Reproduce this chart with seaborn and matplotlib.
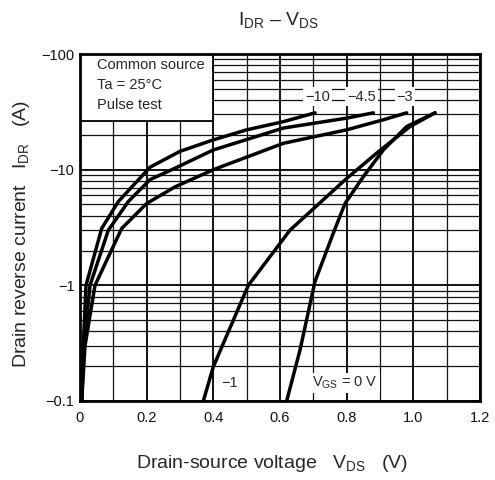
import numpy as np
import pandas as pd
import matplotlib
matplotlib.use("Agg")
import matplotlib.pyplot as plt
import seaborn as sns
from matplotlib.ticker import FixedLocator, NullFormatter, LogLocator
from matplotlib.patches import Rectangle

# Reverse drain current curves I_DR(V_DS) for several gate-source voltages
vgs_levels = [-10, -4.5, -3, -1, 0]

vds_m10 = [0.005, 0.010, 0.018, 0.065, 0.115, 0.21, 0.30, 0.40, 0.50, 0.61, 0.705]
idr_m10 = [-0.1, -0.3, -1.0, -3.1, -5.3, -10.5, -14.4, -18.1, -22.1, -26.0, -31.0]

vds_m45 = [0.005, 0.012, 0.030, 0.085, 0.145, 0.21, 0.285, 0.40, 0.61, 0.80, 0.88]
idr_m45 = [-0.1, -0.3, -1.0, -3.0, -5.3, -8.2, -10.3, -14.8, -22.9, -27.9, -31.0]

vds_m3 = [0.005, 0.015, 0.045, 0.125, 0.20, 0.285, 0.40, 0.61, 0.80, 0.91, 0.98]
idr_m3 = [-0.1, -0.3, -1.0, -3.1, -5.1, -7.1, -10.0, -16.9, -22.1, -27.0, -31.0]

vds_m1 = [0.37, 0.40, 0.46, 0.505, 0.63, 0.80, 0.89, 0.99, 1.065]
idr_m1 = [-0.1, -0.198, -0.5, -1.0, -3.0, -8.4, -13.9, -23.6, -31.0]

vds_0 = [0.62, 0.66, 0.705, 0.76, 0.795, 0.85, 0.91, 0.98, 1.065]
idr_0 = [-0.1, -0.276, -1.08, -2.83, -5.1, -8.7, -14.8, -23.6, -31.0]

x_ticks = [0, 0.2, 0.4, 0.6, 0.8, 1.0, 1.2]
x_tick_labels = ["0", "0.2", "0.4", "0.6", "0.8", "1.0", "1.2"]
y_ticks = [-0.1, -1, -10, -100]
y_tick_labels = ["\u22120.1", "\u22121", "\u221210", "\u2212100"]

info_lines = ["Common source", "Ta = 25\u00b0C", "Pulse test"]

series = {
    -10: (vds_m10, idr_m10),
    -4.5: (vds_m45, idr_m45),
    -3: (vds_m3, idr_m3),
    -1: (vds_m1, idr_m1),
    0: (vds_0, idr_0),
}
frames = []
for vgs in vgs_levels:
    vds, idr = series[vgs]
    frames.append(pd.DataFrame({"VDS": vds, "IDR": idr, "VGS": str(vgs)}))
df = pd.concat(frames, ignore_index=True)
df["IDR_mag"] = -df["IDR"]

sns.set_style("white")
plt.rcParams["font.family"] = ["Liberation Sans", "DejaVu Sans"]
plt.rcParams["mathtext.fontset"] = "custom"
plt.rcParams["mathtext.rm"] = "Liberation Sans"
plt.rcParams["mathtext.it"] = "Liberation Sans"
plt.rcParams["mathtext.default"] = "rm"

fig = plt.figure(figsize=(4.95, 4.8), dpi=100)
ax = fig.add_axes([80 / 495, 79 / 480, 400 / 495, 347 / 480])

sns.lineplot(data=df, x="VDS", y="IDR_mag", hue="VGS", palette=["black"] * 5,
             sort=False, estimator=None, legend=False, lw=2.5, ax=ax,
             zorder=3)

ax.set_yscale("log")
ax.set_xlim(0, 1.2)
ax.set_ylim(0.1, 100)

ax.xaxis.set_major_locator(FixedLocator(x_ticks))
ax.set_xticklabels(x_tick_labels)
ax.xaxis.set_minor_locator(FixedLocator(np.arange(0.1, 1.2, 0.2)))
ax.yaxis.set_major_locator(FixedLocator([-v for v in y_ticks]))
ax.set_yticklabels(y_tick_labels)
ax.yaxis.set_minor_locator(LogLocator(base=10, subs=np.arange(2, 10)))
ax.yaxis.set_minor_formatter(NullFormatter())

ax.grid(which="major", color="#111111", lw=1.4, zorder=1)
ax.grid(which="minor", color="#111111", lw=0.9, zorder=1)
ax.tick_params(which="both", length=0, labelsize=10.5, colors="#111111")
ax.tick_params(axis="x", pad=7)
ax.tick_params(axis="y", pad=4)
for sp in ax.spines.values():
    sp.set_visible(True)
    sp.set_color("black")
    sp.set_linewidth(2.0)
    sp.set_zorder(4)

ax.set_xlabel("")
ax.set_ylabel("")

# Measurement conditions box
ax.add_patch(Rectangle((0, 0.807), 0.3325, 0.193, transform=ax.transAxes,
                       facecolor="white", edgecolor="black", lw=1.3, zorder=2))
for i, line in enumerate(info_lines):
    ax.text(0.042, 0.968 - i * 0.0575, line, transform=ax.transAxes,
            ha="left", va="center", fontsize=10.5, zorder=5)

# Curve labels (V_GS values)
box = dict(facecolor="white", edgecolor="none", pad=1.5)
label_pos = {-10: (0.7125, 42.9), -4.5: (0.845, 42.9), -3: (0.975, 42.9),
             -1: (0.45, 0.143)}
for vgs, (xv, yv) in label_pos.items():
    ax.text(xv, yv, "\u2212" + format(abs(vgs), "g"), ha="center", va="center",
            fontsize=10.5, bbox=box, zorder=5)
ax.text(0.795, 0.143, r"$V_{GS}$ = 0 V", ha="center", va="center",
        fontsize=10.5, bbox=box, zorder=5)

fig.text(278 / 495, 1 - 20 / 480, r"$I_{DR}$ \u2013 $V_{DS}$".replace("\\u2013", "\u2013"),
         ha="center", va="center", fontsize=14)
fig.text(271.5 / 495, 1 - 463 / 480, r"Drain-source voltage   $V_{DS}$   (V)",
         ha="center", va="center", fontsize=14)
fig.text(22 / 495, 1 - 234 / 480, r"Drain reverse current   $I_{DR}$   (A)",
         ha="center", va="center", rotation=90, fontsize=14)

fig.savefig("out.png", dpi=100, facecolor="white")
